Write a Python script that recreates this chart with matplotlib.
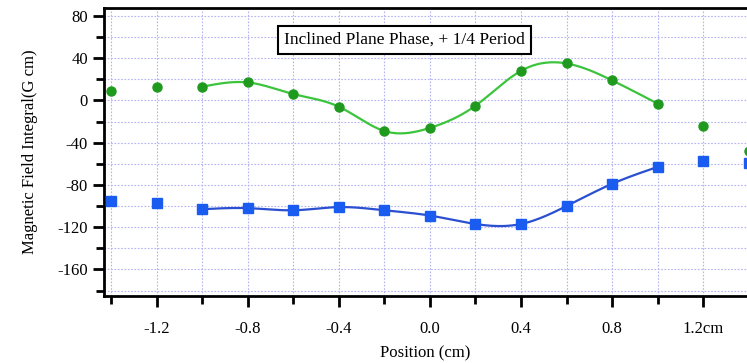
import numpy as np
import matplotlib
matplotlib.use("Agg")
import matplotlib.pyplot as plt
from matplotlib.ticker import MultipleLocator

# ------------------------- Data ------------------------- #
position = [-1.4, -1.2, -1.0, -0.8, -0.6, -0.4, -0.2, 0.0, 0.2, 0.4, 0.6, 0.8, 1.0, 1.2, 1.4]
green_vals = [9, 13, 13, 17, 6, -6, -29, -26, -5, 28, 35, 19, -3, -24, -48]
blue_vals = [-95, -97, -103, -102, -104, -101, -104, -109, -117, -117, -100, -79, -63, -57, -59]
fit_range = (-1.0, 1.0)   # smooth curve drawn only through this span
x_ticks = [-1.2, -0.8, -0.4, 0.0, 0.4, 0.8, 1.2]
x_ticklabels = ["-1.2", "-0.8", "-0.4", "0.0", "0.4", "0.8", "1.2cm"]
title_text = "Inclined Plane Phase, + 1/4 Period"


# natural cubic spline through the points (no scipy here)
def cubic_spline(x, y, xs):
    x = np.asarray(x, float)
    y = np.asarray(y, float)
    n = len(x)
    h = np.diff(x)
    A = np.zeros((n, n))
    b = np.zeros(n)
    A[0, 0] = A[-1, -1] = 1
    for i in range(1, n - 1):
        A[i, i - 1] = h[i - 1]
        A[i, i] = 2 * (h[i - 1] + h[i])
        A[i, i + 1] = h[i]
        b[i] = 3 * ((y[i + 1] - y[i]) / h[i] - (y[i] - y[i - 1]) / h[i - 1])
    c = np.linalg.solve(A, b)
    idx = np.clip(np.searchsorted(x, xs) - 1, 0, n - 2)
    dx = xs - x[idx]
    bb = (y[idx + 1] - y[idx]) / h[idx] - h[idx] * (2 * c[idx] + c[idx + 1]) / 3
    d = (c[idx + 1] - c[idx]) / (3 * h[idx])
    return y[idx] + bb * dx + c[idx] * dx ** 2 + d * dx ** 3


plt.rcParams['font.family'] = ['Liberation Serif', 'DejaVu Serif']
plt.rcParams['axes.unicode_minus'] = False

fig = plt.figure(figsize=(7.47, 3.63), dpi=100)
ax = fig.add_axes([0.139, 0.185, 0.861, 0.793])

pos = np.array(position)
mask = (pos >= fit_range[0] - 1e-9) & (pos <= fit_range[1] + 1e-9)
xs = np.linspace(fit_range[0], fit_range[1], 300)

ax.plot(xs, cubic_spline(pos[mask], np.array(green_vals)[mask], xs), color="#3cc43c", lw=1.6, zorder=3)
ax.plot(xs, cubic_spline(pos[mask], np.array(blue_vals)[mask], xs), color="#2a4fd0", lw=1.6, zorder=3)
ax.plot(position, green_vals, "o", color="#1f9a1f", ms=6.5, zorder=4, clip_on=True)
ax.plot(position, blue_vals, "s", color="#1a5cf0", ms=6.5, zorder=4, clip_on=True)

ax.set_xlim(-1.433, 1.393)
ax.set_ylim(-185, 87.5)

ax.set_xticks(x_ticks)
ax.set_xticklabels(x_ticklabels)
ax.xaxis.set_minor_locator(MultipleLocator(0.2))
ax.yaxis.set_major_locator(MultipleLocator(40))
ax.yaxis.set_minor_locator(MultipleLocator(20))

ax.grid(True, which="both", color="#b4b4f5", ls=(0, (1.5, 1.5)), lw=0.8)
ax.set_axisbelow(True)

for s in ["left", "bottom", "top"]:
    ax.spines[s].set_linewidth(2)
ax.spines["right"].set_visible(False)

ax.tick_params(axis="both", which="major", direction="out", length=8, width=2, labelsize=12)
ax.tick_params(axis="both", which="minor", direction="out", length=6, width=2)
ax.tick_params(axis="x", which="both", pad=10)

ax.set_ylabel("Magnetic Field Integral(G cm)", fontsize=12, labelpad=14)
ax.set_xlabel("Position (cm)", fontsize=12, labelpad=6)

ax.text(0.467, 0.89, title_text, transform=ax.transAxes, ha="center", va="center", fontsize=12.5,
        bbox=dict(boxstyle="square,pad=0.35", fc="white", ec="black", lw=1.5))

fig.savefig("out.png", dpi=100)
